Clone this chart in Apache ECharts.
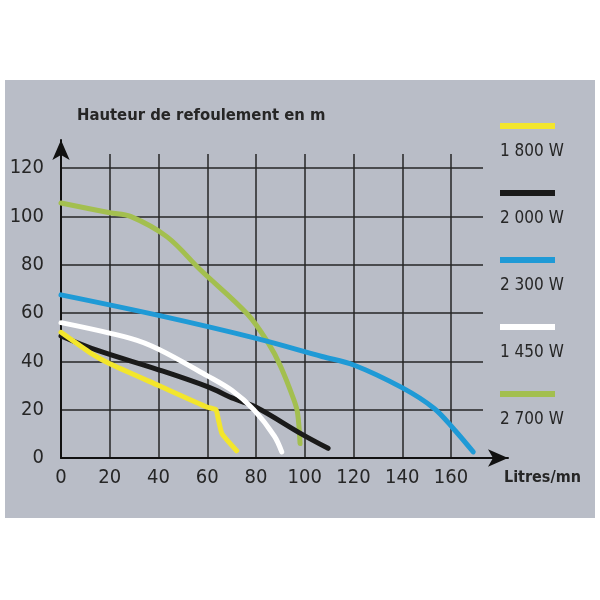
<!DOCTYPE html>
<html>
<head>
<meta charset="utf-8">
<script src="https://cdn.jsdelivr.net/npm/echarts@6/dist/echarts.min.js"></script>
<style>
  html, body { margin: 0; padding: 0; background: #ffffff; }
  #container { width: 600px; height: 600px; }
</style>
</head>
<body>
<div id="container"></div>
<script>
// courbes débit / hauteur
var names = ['1 800 W', '2 000 W', '2 300 W', '1 450 W', '2 700 W'];
var colors = ['#f3e62c', '#1a1a1a', '#1f9ad6', '#ffffff', '#a3bf4f'];

var x1800 = [0, 12, 20, 40, 60, 63.5, 64.5, 66, 72];
var y1800 = [52, 43.5, 39, 30, 21, 20, 16, 10, 3];

var x2000 = [0, 15, 40, 60, 71, 80, 98.5, 109.5];
var y2000 = [50.5, 44.5, 36.5, 29.5, 24.5, 21, 10, 4];

var x2300 = [0, 40, 80, 107, 120, 140, 153, 161, 169];
var y2300 = [67.5, 59, 49.5, 42, 38.5, 29, 20.5, 12, 2.5];

var x1450 = [0, 28.5, 40, 60, 70, 79, 87.5, 90.5];
var y1450 = [56, 49.5, 45, 34, 28, 20, 9, 2.5];

var x2700 = [0, 20, 28.5, 43.5, 57, 76.5, 85, 90, 95.5, 97, 98];
var y2700 = [105.5, 101.5, 100, 91.5, 78, 59.5, 47.5, 38, 24, 18.5, 6];

var xs = [x1800, x2000, x2300, x1450, x2700];
var ys = [y1800, y2000, y2300, y1450, y2700];

var font = '"DejaVu Sans Condensed", "Liberation Sans Narrow", sans-serif';
var dark = '#262626';

function pairs(xa, ya) {
    return xa.map(function (v, i) { return [v, ya[i]]; });
}

// ordre de dessin : vert, bleu, noir, jaune, blanc
var order = [4, 2, 1, 0, 3];
var series = order.map(function (k) {
    return {
        name: names[k],
        type: 'line',
        xAxisIndex: 0,
        yAxisIndex: 0,
        data: pairs(xs[k], ys[k]),
        smooth: k === 0 ? 0.15 : 0.35,
        symbol: 'none',
        lineStyle: { color: colors[k], width: 5, cap: 'round', join: 'round' },
        z: 5
    };
});

// légende à droite (trait + texte dessous)
var graphics = [{
    type: 'rect',
    shape: { x: 5, y: 80, width: 590, height: 438 },
    style: { fill: '#b9bdc7' },
    z: -100,
    silent: true
}];
names.forEach(function (n, i) {
    var yy = 123 + i * 67;
    graphics.push({
        type: 'rect',
        shape: { x: 500, y: yy, width: 55, height: 6 },
        style: { fill: colors[i] },
        z: 10
    });
    graphics.push({
        type: 'text',
        x: 500,
        y: yy + 29,
        style: {
            text: n,
            fill: dark,
            font: '17px ' + font,
            verticalAlign: 'middle',
            align: 'left'
        },
        z: 10
    });
});

var option = {
    backgroundColor: '#ffffff',
    animation: false,
    grid: [
        { left: 61, top: 168, width: 422, height: 290 },
        { left: 61, top: 154, width: 390, height: 304 },
        { left: 61, top: 140, width: 447, height: 318 }
    ],
    xAxis: [
        { gridIndex: 0, type: 'value', min: 0, max: 173, show: false },
        {
            gridIndex: 1, type: 'value', min: 0, max: 160, interval: 20,
            axisLine: { show: false },
            axisTick: { show: false },
            axisLabel: { color: dark, fontFamily: font, fontSize: 20, margin: 10 },
            splitLine: { show: true, lineStyle: { color: dark, width: 1.5 } }
        },
        {
            gridIndex: 2, type: 'value', min: 0, max: 1,
            name: 'Litres/mn',
            nameLocation: 'end',
            nameGap: 0,
            nameTextStyle: {
                color: dark, fontFamily: font, fontSize: 16, fontWeight: 'bold',
                align: 'left', verticalAlign: 'top', padding: [12, 0, 0, -4]
            },
            axisLine: {
                show: true, symbol: ['none', 'arrow'], symbolSize: [13, 20],
                lineStyle: { color: '#111', width: 2 }
            },
            axisTick: { show: false },
            axisLabel: { show: false },
            splitLine: { show: false }
        }
    ],
    yAxis: [
        {
            gridIndex: 0, type: 'value', min: 0, max: 120, interval: 20,
            axisLine: { show: false },
            axisTick: { show: false },
            axisLabel: { color: dark, fontFamily: font, fontSize: 20, margin: 17 },
            splitLine: { show: true, lineStyle: { color: dark, width: 1.5 } }
        },
        { gridIndex: 1, type: 'value', min: 0, max: 1, show: false },
        {
            gridIndex: 2, type: 'value', min: 0, max: 1,
            name: 'Hauteur de refoulement en m',
            nameLocation: 'end',
            nameGap: 16,
            nameTextStyle: {
                color: dark, fontFamily: font, fontSize: 16.5, fontWeight: 'bold',
                align: 'left', padding: [0, 0, 0, 16]
            },
            axisLine: {
                show: true, symbol: ['none', 'arrow'], symbolSize: [13, 20],
                lineStyle: { color: '#111', width: 2 }
            },
            axisTick: { show: false },
            axisLabel: { show: false },
            splitLine: { show: false }
        }
    ],
    graphic: graphics,
    series: series
};

var myChart = echarts.init(document.getElementById('container'));
myChart.setOption(option);
</script>
</body>
</html>
